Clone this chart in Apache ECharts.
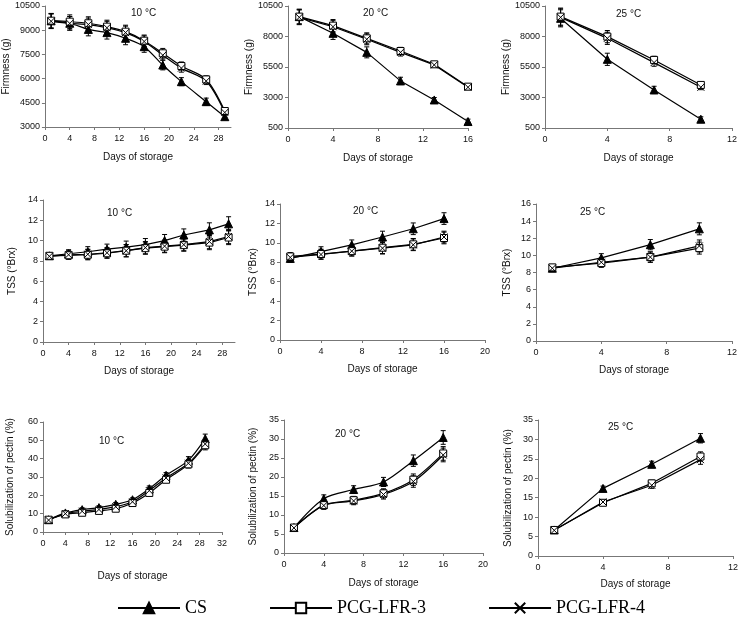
<!DOCTYPE html>
<html>
<head>
<meta charset="utf-8">
<script src="https://cdn.jsdelivr.net/npm/echarts@6/dist/echarts.min.js"></script>
<style>
  html, body { margin: 0; padding: 0; background: #fff; }
  #chart { width: 741px; height: 627px; }
</style>
</head>
<body>
<div id="chart"></div>
<script>
// days of storage
const days10 = [1, 4, 7, 10, 13, 16, 19, 22, 26, 29];
const days20 = [1, 4, 7, 10, 13, 16];
const days25 = [1, 4, 7, 10];

// firmness (g)
const csFirm10 = [9580, 9430, 9050, 8850, 8500, 7980, 6840, 5810, 4570, 3640];
const p3Firm10 = [9590, 9530, 9430, 9220, 8910, 8350, 7570, 6780, 5950, 3990];
const p4Firm10 = [9550, 9420, 9350, 9150, 8850, 8300, 7450, 6650, 5850, 3900];
const errFirm10 = [450, 420, 400, 400, 400, 350, 300, 250, 220, 150];
const csFirm20 = [9630, 8260, 6700, 4360, 2800, 1030];
const p3Firm20 = [9630, 8890, 7850, 6810, 5720, 3890];
const p4Firm20 = [9570, 8800, 7770, 6700, 5670, 3840];
const errFirm20 = [600, 500, 450, 300, 200, 200];
const csFirm25 = [9490, 6130, 3620, 1220];
const p3Firm25 = [9630, 7990, 6080, 4030];
const p4Firm25 = [9570, 7850, 5860, 3840];
const errFirm25 = [700, 500, 300, 200];

// TSS (°Brx)
const csTss10 = [8.5, 8.7, 8.9, 9.15, 9.35, 9.6, 10.0, 10.55, 11.05, 11.65];
const p3Tss10 = [8.5, 8.55, 8.6, 8.75, 9.0, 9.25, 9.4, 9.55, 9.8, 10.3];
const p4Tss10 = [8.45, 8.6, 8.65, 8.8, 9.0, 9.3, 9.45, 9.6, 9.9, 10.4];
const errTss10 = [0.3, 0.4, 0.5, 0.5, 0.6, 0.6, 0.6, 0.6, 0.7, 0.7];
const csTss20 = [8.4, 9.1, 9.8, 10.6, 11.45, 12.5];
const p3Tss20 = [8.6, 8.85, 9.15, 9.5, 9.85, 10.5];
const p4Tss20 = [8.5, 8.8, 9.15, 9.45, 9.8, 10.6];
const errTss20 = [0.4, 0.5, 0.5, 0.6, 0.6, 0.6];
const csTss25 = [8.5, 9.7, 11.25, 13.1];
const p3Tss25 = [8.6, 9.1, 9.8, 10.85];
const p4Tss25 = [8.5, 9.2, 9.8, 11.1];
const errTss25 = [0.3, 0.5, 0.6, 0.7];

// solubilization of pectin (%)
const csPec10 = [6.7, 10.4, 12.2, 13.3, 15.1, 17.6, 23.6, 30.9, 39.1, 50.9];
const p3Pec10 = [6.7, 9.6, 10.5, 11.5, 12.7, 15.8, 21.3, 28.5, 36.9, 47.3];
const p4Pec10 = [6.5, 10.0, 11.3, 12.3, 13.8, 16.5, 22.6, 29.5, 37.5, 48.0];
const errPec10 = [1, 1, 1, 1, 1, 1, 1.5, 1.5, 2, 2.5];
const csPec20 = [6.7, 14.3, 16.7, 18.7, 24.3, 30.4];
const p3Pec20 = [6.7, 12.6, 13.9, 15.7, 19.3, 26.2];
const p4Pec20 = [6.6, 12.5, 13.7, 15.4, 18.8, 25.8];
const errPec20 = [0.5, 1, 1, 1.2, 1.5, 1.8];
const csPec25 = [6.7, 17.4, 23.6, 30.3];
const p3Pec25 = [6.7, 13.7, 18.7, 25.6];
const p4Pec25 = [6.6, 13.9, 18.2, 24.8];
const errPec25 = [0.5, 0.6, 0.8, 1.2];

// tick labels
const xTicks28 = [0, 4, 8, 12, 16, 20, 24, 28];
const xTicks32 = [0, 4, 8, 12, 16, 20, 24, 28, 32];
const xTicks16 = [0, 4, 8, 12, 16];
const xTicks20 = [0, 4, 8, 12, 16, 20];
const xTicks12 = [0, 4, 8, 12];
const yFirm10Ticks = [3000, 4500, 6000, 7500, 9000, 10500];
const yFirmTicks = [500, 3000, 5500, 8000, 10500];
const yTss14Ticks = [0, 2, 4, 6, 8, 10, 12, 14];
const yTss16Ticks = [0, 2, 4, 6, 8, 10, 12, 14, 16];
const yPec60Ticks = [0, 10, 20, 30, 40, 50, 60];
const yPec35Ticks = [0, 5, 10, 15, 20, 25, 30, 35];

const names = ["CS", "PCG-LFR-3", "PCG-LFR-4"];
const temps = ["10 °C", "20 °C", "25 °C"];

const panels = [
  { grid: [43, 6, 188, 121], x: [0, 30, xTicks28], y: [3000, 10500, yFirm10Ticks], yName: "Firmness (g)", yGap: 30, xGap: 25, days: days10, vals: [csFirm10, p3Firm10, p4Firm10], err: errFirm10, smooth: true, label: [145, 14] },
  { grid: [288, 6, 180, 122], x: [0, 16, xTicks16], y: [500, 10500, yFirmTicks], yName: "Firmness (g)", yGap: 32, xGap: 25, days: days20, vals: [csFirm20, p3Firm20, p4Firm20], err: errFirm20, smooth: false, label: [377, 14] },
  { grid: [545, 6, 187, 122], x: [0, 12, xTicks12], y: [500, 10500, yFirmTicks], yName: "Firmness (g)", yGap: 33, xGap: 25, days: days25, vals: [csFirm25, p3Firm25, p4Firm25], err: errFirm25, smooth: false, label: [630, 15] },
  { grid: [43, 200, 192, 142], x: [0, 30, xTicks28], y: [0, 14, yTss14Ticks], yName: "TSS (°Brx)", yGap: 26, xGap: 24, days: days10, vals: [csTss10, p3Tss10, p4Tss10], err: errTss10, smooth: false, label: [121, 214] },
  { grid: [280, 204, 205, 136], x: [0, 20, xTicks20], y: [0, 14, yTss14Ticks], yName: "TSS (°Brx)", yGap: 22, xGap: 24, days: days20, vals: [csTss20, p3Tss20, p4Tss20], err: errTss20, smooth: false, label: [367, 212] },
  { grid: [536, 204, 196, 137], x: [0, 12, xTicks12], y: [0, 16, yTss16Ticks], yName: "TSS (°Brx)", yGap: 24, xGap: 24, days: days25, vals: [csTss25, p3Tss25, p4Tss25], err: errTss25, smooth: false, label: [594, 213] },
  { grid: [43, 422, 179, 110], x: [0, 32, xTicks32], y: [0, 60, yPec60Ticks], yName: "Solubilization of pectin (%)", yGap: 28, xGap: 39, days: days10, vals: [csPec10, p3Pec10, p4Pec10], err: errPec10, smooth: true, label: [113, 442] },
  { grid: [284, 420, 199, 133], x: [0, 20, xTicks20], y: [0, 35, yPec35Ticks], yName: "Solubilization of pectin (%)", yGap: 26, xGap: 25, days: days20, vals: [csPec20, p3Pec20, p4Pec20], err: errPec20, smooth: true, label: [349, 435] },
  { grid: [538, 420, 197, 136], x: [0, 12, xTicks12], y: [0, 35, yPec35Ticks], yName: "Solubilization of pectin (%)", yGap: 25, xGap: 23, days: days25, vals: [csPec25, p3Pec25, p4Pec25], err: errPec25, smooth: false, label: [622, 428] },
];

const symbols = [
  { symbol: "triangle", size: 8, style: { color: "#000", borderColor: "#000", borderWidth: 1 } },
  { symbol: "rect", size: 7, style: { color: "#fff", borderColor: "#000", borderWidth: 1 } },
  { symbol: "path://M0,0L10,10M10,0L0,10", size: 7, style: { color: "none", borderColor: "#000", borderWidth: 1 } },
];

const font = "Liberation Sans";
const plain = function (v) { return String(v); };
const grids = [], xAxes = [], yAxes = [], series = [], graphics = [];

panels.forEach(function (p, i) {
  grids.push({ left: p.grid[0], top: p.grid[1], width: p.grid[2], height: p.grid[3] });
  xAxes.push({
    gridIndex: i, type: "value", min: p.x[0], max: p.x[1],
    name: "Days of storage", nameLocation: "middle", nameGap: p.xGap,
    nameTextStyle: { fontFamily: font, fontSize: 10, color: "#111" },
    axisLine: { lineStyle: { color: "#777", width: 1 } },
    axisTick: { customValues: p.x[2], length: 3, lineStyle: { color: "#777" } },
    axisLabel: { customValues: p.x[2], formatter: plain, fontFamily: font, fontSize: 9, color: "#111", margin: 7 },
    splitLine: { show: false },
  });
  yAxes.push({
    gridIndex: i, type: "value", min: p.y[0], max: p.y[1],
    name: p.yName, nameLocation: "middle", nameGap: p.yGap,
    nameTextStyle: { fontFamily: font, fontSize: 10, color: "#111" },
    axisLine: { show: true, lineStyle: { color: "#777", width: 1 } },
    axisTick: { show: true, customValues: p.y[2], length: 3, lineStyle: { color: "#777" } },
    axisLabel: { customValues: p.y[2], formatter: plain, fontFamily: font, fontSize: 9, color: "#111", margin: 5 },
    splitLine: { show: false },
  });
  p.vals.forEach(function (vals, k) {
    series.push({
      type: "custom", xAxisIndex: i, yAxisIndex: i, silent: true, z: 3,
      data: p.days.map(function (d, j) { return [d, vals[j], p.err[j]]; }),
      renderItem: function (params, api) {
        const x = api.value(0), y = api.value(1), e = api.value(2);
        const a = api.coord([x, y + e]);
        const b = api.coord([x, y - e]);
        const st = { stroke: "#000", lineWidth: 1 };
        return {
          type: "group",
          children: [
            { type: "line", shape: { x1: a[0], y1: a[1], x2: b[0], y2: b[1] }, style: st },
            { type: "line", shape: { x1: a[0] - 2.5, y1: a[1], x2: a[0] + 2.5, y2: a[1] }, style: st },
            { type: "line", shape: { x1: b[0] - 2.5, y1: b[1], x2: b[0] + 2.5, y2: b[1] }, style: st },
          ],
        };
      },
    });
    series.push({
      name: names[k], type: "line", xAxisIndex: i, yAxisIndex: i,
      data: p.days.map(function (d, j) { return [d, vals[j]]; }),
      smooth: p.smooth ? 0.3 : false,
      symbol: symbols[k].symbol, symbolSize: symbols[k].size, showAllSymbol: true,
      itemStyle: symbols[k].style,
      lineStyle: { color: "#000", width: 1.2 },
      z: 4, animation: false,
    });
  });
  graphics.push({
    type: "text", left: p.label[0] - 14, top: p.label[1] - 6,
    style: { text: temps[i % 3], font: "10px " + font, fill: "#111" },
  });
});

const option = {
  animation: false,
  backgroundColor: "#fff",
  grid: grids,
  xAxis: xAxes,
  yAxis: yAxes,
  series: series,
  graphic: graphics,
  legend: {
    data: names, left: 112, top: 594, itemWidth: 62, itemHeight: 13, itemGap: 62,
    textStyle: { fontFamily: "Liberation Serif", fontSize: 18, color: "#000" },
  },
};

const chart = echarts.init(document.getElementById("chart"));
chart.setOption(option);
</script>
</body>
</html>
